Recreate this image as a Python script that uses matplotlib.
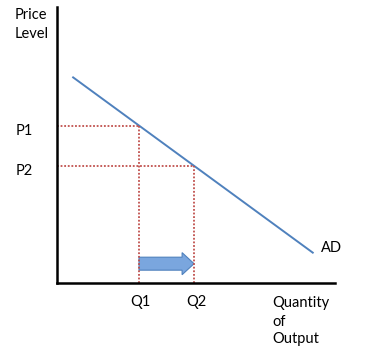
import matplotlib.pyplot as plt
from matplotlib.patches import FancyArrow

# AD curve end points and the two equilibria (arbitrary units)
ad_x = [0.58, 9.2]
ad_y = [7.45, 1.1]
q_vals = [2.95, 4.93]
p_vals = [5.7, 4.25]
q_labels = ['Q1', 'Q2']
p_labels = ['P1', 'P2']

plt.rcParams['font.family'] = ['Lato', 'DejaVu Sans']

W, H = 376, 358
fig = plt.figure(figsize=(W / 100, H / 100), dpi=100)
ax = fig.add_axes([57 / W, 1 - 283 / H, 278 / W, 276 / H])
ax.set_xlim(0, 10)
ax.set_ylim(0, 10)
for s in ['top', 'right']:
    ax.spines[s].set_visible(False)
for s in ['left', 'bottom']:
    ax.spines[s].set_linewidth(1.8)
ax.set_xticks([])
ax.set_yticks([])

ax.plot(ad_x, ad_y, color='#4f81bd', lw=1.4)

red = '#c0504d'
for q, p in zip(q_vals, p_vals):
    ax.plot([0, q], [p, p], color=red, ls=(0, (1, 1)), lw=1.3)
    ax.plot([q, q], [0, p], color=red, ls=(0, (1, 1)), lw=1.3)

arrow = FancyArrow(q_vals[0], 0.7, q_vals[1] - q_vals[0], 0, width=0.47,
                   head_width=0.8, head_length=0.43, length_includes_head=True,
                   facecolor='#7aa6de', edgecolor='#4f81bd', lw=0.8)
ax.add_patch(arrow)


# labels placed in pixel positions (x from left, baseline y from top)
def label(px, py, s, ha='left'):
    fig.text(px / W, 1 - py / H, s, ha=ha, va='baseline', fontsize=10.5)


label(15, 19, 'Price')
label(15, 38, 'Level')
label(16, 135, p_labels[0])
label(16, 175, p_labels[1])
label(140.5, 306, q_labels[0], ha='center')
label(196, 306, q_labels[1], ha='center')
label(272, 307, 'Quantity')
label(272, 326, 'of')
label(272, 343, 'Output')
label(321, 252, 'AD')

fig.savefig('out.png', dpi=100)
